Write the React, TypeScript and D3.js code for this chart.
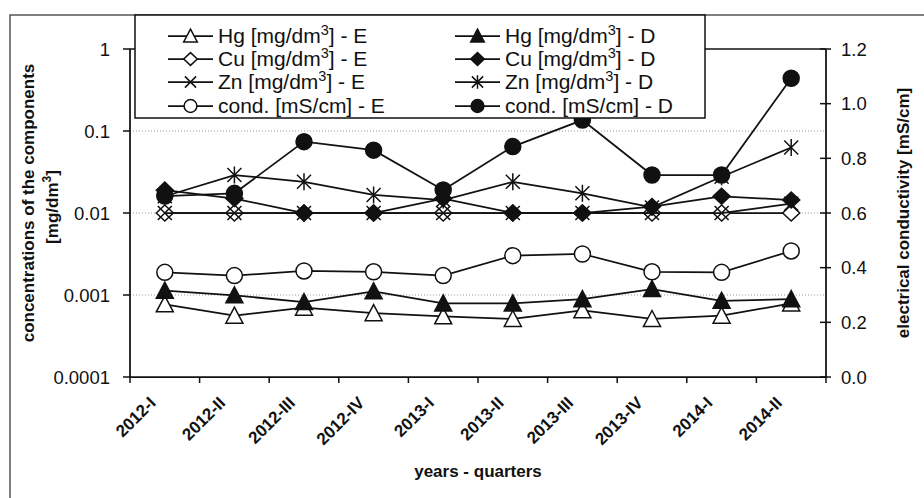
import * as d3 from 'd3';

// quarters on the category axis
const categories = ['2012-I', '2012-II', '2012-III', '2012-IV', '2013-I', '2013-II', '2013-III', '2013-IV', '2014-I', '2014-II'];

// concentrations [mg/dm3], left (log) axis
const hgE = [0.00077, 0.00056, 0.0007, 0.0006, 0.00055, 0.00051, 0.00065, 0.00051, 0.00056, 0.00079];
const hgD = [0.00113, 0.00099, 0.00082, 0.00111, 0.00079, 0.00079, 0.00089, 0.00118, 0.00085, 0.00089];
const cuE = [0.01, 0.01, 0.01, 0.01, 0.01, 0.01, 0.01, 0.01, 0.01, 0.01];
const cuD = [0.019, 0.015, 0.01, 0.01, 0.015, 0.01, 0.01, 0.012, 0.016, 0.0144];
const znE = [0.01, 0.01, 0.01, 0.01, 0.01, 0.01, 0.01, 0.01, 0.01, 0.013];
const znD = [0.016, 0.029, 0.024, 0.0166, 0.0144, 0.024, 0.0174, 0.0117, 0.0277, 0.063];

// electrical conductivity [mS/cm], right axis
const condE = [0.383, 0.371, 0.388, 0.385, 0.371, 0.444, 0.45, 0.385, 0.383, 0.461];
const condD = [0.662, 0.672, 0.861, 0.83, 0.684, 0.843, 0.94, 0.739, 0.739, 1.093];

const leftTicks = [0.0001, 0.001, 0.01, 0.1, 1];
const leftTickLabels = ['0.0001', '0.001', '0.01', '0.1', '1'];
const rightTicks = [0, 0.2, 0.4, 0.6, 0.8, 1.0, 1.2];
const gridValues = [0.001, 0.01, 0.1];

type Marker = 'triangle' | 'diamond' | 'x' | 'star' | 'circle';

interface Series {
  name: string;
  suffix: string;
  values: number[];
  axis: 'left' | 'right';
  marker: Marker;
  filled: boolean;
}

const series: Series[] = [
  { name: 'Hg [mg/dm', suffix: '] - E', values: hgE, axis: 'left', marker: 'triangle', filled: false },
  { name: 'Hg [mg/dm', suffix: '] - D', values: hgD, axis: 'left', marker: 'triangle', filled: true },
  { name: 'Cu [mg/dm', suffix: '] - E', values: cuE, axis: 'left', marker: 'diamond', filled: false },
  { name: 'Cu [mg/dm', suffix: '] - D', values: cuD, axis: 'left', marker: 'diamond', filled: true },
  { name: 'Zn [mg/dm', suffix: '] - E', values: znE, axis: 'left', marker: 'x', filled: false },
  { name: 'Zn [mg/dm', suffix: '] - D', values: znD, axis: 'left', marker: 'star', filled: true },
  { name: 'cond. [mS/cm] - E', suffix: '', values: condE, axis: 'right', marker: 'circle', filled: false },
  { name: 'cond. [mS/cm] - D', suffix: '', values: condD, axis: 'right', marker: 'circle', filled: true },
];

const W = 924;
const H = 498;
const plot = { left: 130, right: 826, top: 49, bottom: 377 };
const FONT = "'Liberation Sans', Arial, sans-serif";
const INK = '#111';

function MarkerShape({ type, x, y, s, filled }: { type: Marker; x: number; y: number; s: number; filled: boolean }) {
  const fill = filled ? INK : '#fff';
  const sw = 1.5;
  if (type === 'triangle') {
    const pts = [[x, y - 8.5 * s], [x + 8.5 * s, y + 7.5 * s], [x - 8.5 * s, y + 7.5 * s]];
    return <polygon points={pts.map((p) => p.join(',')).join(' ')} fill={fill} stroke={INK} strokeWidth={sw} />;
  }
  if (type === 'diamond') {
    const pts = [[x, y - 8 * s], [x + 8.5 * s, y], [x, y + 8 * s], [x - 8.5 * s, y]];
    return <polygon points={pts.map((p) => p.join(',')).join(' ')} fill={fill} stroke={INK} strokeWidth={sw} />;
  }
  if (type === 'circle') {
    return <circle cx={x} cy={y} r={8 * s} fill={fill} stroke={INK} strokeWidth={sw} />;
  }
  const d = 7 * s;
  const p = `M${x - d},${y - d}L${x + d},${y + d}M${x - d},${y + d}L${x + d},${y - d}` +
    (type === 'star' ? `M${x},${y - 8.5 * s}L${x},${y + 8.5 * s}` : '');
  return <path d={p} stroke={INK} strokeWidth={sw} fill="none" />;
}

export default function App() {
  const x = d3.scaleBand<string>().domain(categories).range([plot.left, plot.right]);
  const yLeft = d3.scaleLog().domain([0.0001, 1]).range([plot.bottom, plot.top]);
  const yRight = d3.scaleLinear().domain([0, 1.2]).range([plot.bottom, plot.top]);
  const cx = (c: string) => (x(c) ?? 0) + x.bandwidth() / 2;

  const line = (s: Series) =>
    d3
      .line<number>()
      .x((_, i) => cx(categories[i]))
      .y((v) => (s.axis === 'left' ? yLeft(v) : yRight(v)))(s.values) ?? '';

  const boundaries = [...categories.map((c) => x(c) ?? 0), plot.right];

  // legend: two columns, E on the left, D on the right
  const legendRows = [36, 59, 82, 106];
  const legendCols = [{ x0: 168, x1: 213, tx: 218 }, { x0: 455, x1: 500, tx: 505 }];

  return (
    <svg width={W} height={H} style={{ position: 'absolute', left: 0, top: 0, background: '#fff' }} fontFamily={FONT}>
      <rect width={W} height={H} fill="#fff" />
      {/* chart area border */}
      <path d={`M10,${H}V15H${W}`} fill="none" stroke="#555" strokeWidth={1.5} />

      {/* gridlines */}
      {gridValues.map((g) => (
        <line key={g} x1={plot.left} x2={plot.right} y1={yLeft(g)} y2={yLeft(g)} stroke="#999" strokeWidth={1} strokeDasharray="1,2" />
      ))}

      {/* plot top border */}
      <line x1={plot.left} x2={plot.right} y1={plot.top} y2={plot.top} stroke={INK} strokeWidth={1.5} />

      {/* left axis */}
      <line x1={plot.left} x2={plot.left} y1={plot.top} y2={plot.bottom} stroke={INK} strokeWidth={1.75} />
      {leftTicks.map((t, i) => (
        <g key={t}>
          <line x1={plot.left - 7} x2={plot.left} y1={yLeft(t)} y2={yLeft(t)} stroke={INK} strokeWidth={1.5} />
          <text x={110} y={yLeft(t) + 6.5} textAnchor="end" fontSize={18.5} fill={INK}>{leftTickLabels[i]}</text>
        </g>
      ))}

      {/* right axis */}
      <line x1={plot.right} x2={plot.right} y1={plot.top} y2={plot.bottom} stroke={INK} strokeWidth={1.75} />
      {rightTicks.map((t) => (
        <g key={t}>
          <line x1={plot.right - 6} x2={plot.right + 5} y1={yRight(t)} y2={yRight(t)} stroke={INK} strokeWidth={1.5} />
          <text x={841} y={yRight(t) + 6.5} textAnchor="start" fontSize={18.5} fill={INK}>{t.toFixed(1)}</text>
        </g>
      ))}

      {/* bottom axis */}
      <line x1={plot.left} x2={plot.right} y1={plot.bottom} y2={plot.bottom} stroke={INK} strokeWidth={1.75} />
      {boundaries.map((b, i) => (
        <line key={i} x1={b} x2={b} y1={plot.bottom} y2={plot.bottom + 6} stroke={INK} strokeWidth={1.5} />
      ))}
      {categories.map((c) => (
        <text
          key={c}
          transform={`translate(${cx(c) - 8},404) rotate(-45)`}
          textAnchor="end"
          fontSize={17}
          fontWeight="bold"
          fill={INK}
        >
          {c}
        </text>
      ))}

      {/* series */}
      {series.map((s, si) => (
        <g key={si}>
          <path d={line(s)} fill="none" stroke={INK} strokeWidth={1.75} />
          {s.values.map((v, i) => (
            <MarkerShape
              key={i}
              type={s.marker}
              x={cx(categories[i])}
              y={s.axis === 'left' ? yLeft(v) : yRight(v)}
              s={1}
              filled={s.filled}
            />
          ))}
        </g>
      ))}

      {/* axis titles */}
      <text transform="translate(34,203) rotate(-90)" textAnchor="middle" fontSize={17} fontWeight="bold" fill={INK}>
        concentrations of the components
      </text>
      <text transform="translate(58,207) rotate(-90)" textAnchor="middle" fontSize={17} fontWeight="bold" fill={INK}>
        [mg/dm<tspan dy={-7} fontSize={12}>3</tspan><tspan dy={7}>]</tspan>
      </text>
      <text transform="translate(909,213) rotate(-90)" textAnchor="middle" fontSize={17} fontWeight="bold" fill={INK}>
        electrical conductivity [mS/cm]
      </text>
      <text x={478} y={477} textAnchor="middle" fontSize={17} fontWeight="bold" fill={INK}>
        years - quarters
      </text>

      {/* legend */}
      <rect x={135} y={15} width={570} height={103} fill="#fff" stroke={INK} strokeWidth={1.5} />
      {series.map((s, si) => {
        const col = legendCols[si % 2];
        const ry = legendRows[Math.floor(si / 2)];
        return (
          <g key={si}>
            <line x1={col.x0} x2={col.x1} y1={ry} y2={ry} stroke={INK} strokeWidth={1.75} />
            <MarkerShape type={s.marker} x={(col.x0 + col.x1) / 2} y={ry} s={0.8} filled={s.filled} />
            <text x={col.tx} y={ry + 7} fontSize={21} fill={INK}>
              {s.name}
              {s.suffix && (
                <>
                  <tspan dy={-8} fontSize={14.5}>3</tspan>
                  <tspan dy={8}>{s.suffix}</tspan>
                </>
              )}
            </text>
          </g>
        );
      })}
    </svg>
  );
}
